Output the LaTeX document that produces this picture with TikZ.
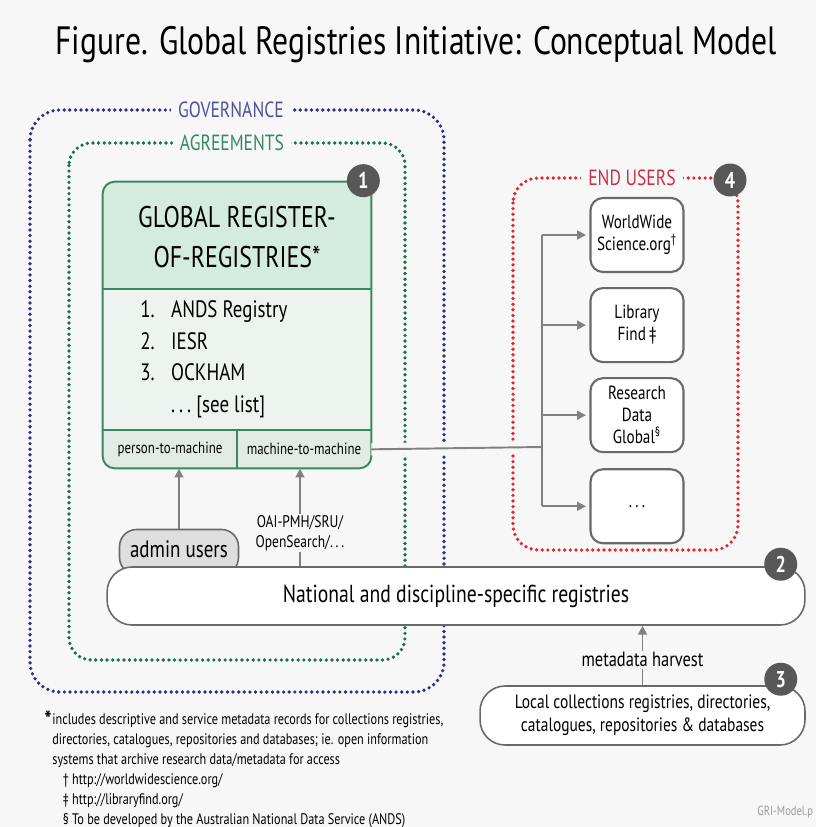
\documentclass[tikz,border=0pt]{standalone}
\usepackage{fontspec}
\setmainfont{PT Sans}[FakeStretch=0.8]
\usetikzlibrary{positioning,calc,arrows.meta}

\definecolor{bggray}{RGB}{247,247,247}
\definecolor{govblue}{RGB}{40,48,140}
\definecolor{govtext}{RGB}{78,82,158}
\definecolor{agrgreen}{RGB}{28,112,72}
\definecolor{agrtext}{RGB}{48,138,98}
\definecolor{endred}{RGB}{228,38,48}
\definecolor{endtext}{RGB}{200,48,74}
\definecolor{regborder}{RGB}{58,135,100}
\definecolor{reghead}{RGB}{212,235,223}
\definecolor{reglist}{RGB}{237,244,240}
\definecolor{regfoot}{RGB}{226,234,229}
\definecolor{boxline}{RGB}{105,105,105}
\definecolor{arrowgray}{RGB}{128,128,128}
\definecolor{badgegray}{RGB}{88,88,88}

\tikzset{
  dotline/.style={line width=2.1pt, line cap=round, dash pattern=on 0pt off 3.2pt},
  framelbl/.style={fill=bggray, inner xsep=4pt, inner ysep=1pt, font=\fontsize{12.5}{14}\selectfont},
  badge/.style={circle, fill=badgegray, text=white, inner sep=0pt, minimum size=0.66cm, font=\fontsize{13}{13}\selectfont\bfseries},
  regline/.style={draw=regborder, line width=1.1pt},
  foottext/.style={minimum width=2.68cm, minimum height=0.76cm, inner sep=0pt, font=\fontsize{9.2}{11}\selectfont},
  userbox/.style={draw=boxline, line width=1.2pt, rounded corners=0.25cm, fill=white, minimum width=1.86cm, minimum height=1.48cm, align=center, font=\fontsize{10.8}{12.6}\selectfont},
  pillbox/.style={draw=boxline, line width=0.9pt, rounded corners=0.5cm, fill=white, align=center},
  flowline/.style={draw=arrowgray, line width=1.1pt},
  flow/.style={flowline, -{Triangle[length=5pt,width=5pt]}},
  flowlbl/.style={fill=bggray, inner sep=1pt, align=center},
}

\begin{document}
\begin{tikzpicture}[x=0.02cm, y=-0.02cm]
\fill[bggray] (0,0) rectangle (816,827);
\useasboundingbox (0,0) rectangle (816,827);

\node[font=\fontsize{22.5}{26}\selectfont] (title) at (416,45) {Figure. Global Registries Initiative: Conceptual Model};

\draw[dotline, govblue, rounded corners=0.6cm] (30,110) rectangle (444,692);
\node[framelbl, text=govtext] (govlbl) at (231,110) {GOVERNANCE};
\draw[dotline, agrgreen, rounded corners=0.45cm] (69,143) rectangle (405,660);
\node[framelbl, text=agrtext] (agrlbl) at (232,143) {AGREEMENTS};

\draw[dotline, endred, rounded corners=0.5cm] (513,178) rectangle (738,550);
\node[framelbl, text=endtext] (endlbl) at (632,178) {END USERS};

\node[minimum width=5.36cm, minimum height=5.72cm] (gror) at (237,325) {};
\begin{scope}
  \clip[rounded corners=0.24cm] (gror.north west) rectangle (gror.south east);
  \fill[reghead] (gror.north west) rectangle ($(gror.north east)+(0,107)$);
  \fill[reglist] ($(gror.north west)+(0,107)$) rectangle ($(gror.south east)+(0,-38)$);
  \fill[regfoot] ($(gror.south west)+(0,-38)$) rectangle (gror.south east);
\end{scope}
\draw[regline] ($(gror.north west)+(0,107)$) -- ($(gror.north east)+(0,107)$);
\draw[regline] ($(gror.south west)+(0,-38)$) -- ($(gror.south east)+(0,-38)$);
\draw[regline] (gror.south) -- ($(gror.south)+(0,-38)$);
\draw[regline, rounded corners=0.24cm] (gror.north west) rectangle (gror.south east);

\node[align=center, font=\fontsize{17}{22.7}\selectfont] (headlbl) at ($(gror.north)+(0,55)$) {GLOBAL REGISTER-\\OF-REGISTRIES*};
\node[align=left, anchor=north west, inner sep=0pt, font=\fontsize{13.5}{18.1}\selectfont] (items) at (140,300) {%
  \makebox[1.3em][l]{1.}ANDS Registry\\
  \makebox[1.3em][l]{2.}IESR\\
  \makebox[1.3em][l]{3.}OCKHAM\\
  \makebox[1.3em][l]{}.\,.\,.\ [see list]};
\node[foottext] (p2m) at ($(gror.south)+(-67,-19)$) {person-to-machine};
\node[foottext] (m2m) at ($(gror.south)+(67,-19)$) {machine-to-machine};

\node[userbox] (ub1) at (637,235) {WorldWide\\Science.org\textsuperscript{†}};
\node[userbox, below=0.28cm of ub1] (ub2) {Library\\Find\,‡};
\node[userbox, below=0.28cm of ub2] (ub3) {Research\\Data\\Global\textsuperscript{§}};
\node[userbox, below=0.3cm of ub3] (ub4) {.\,.\,.};

\coordinate (hub) at (542,447);
\draw[flowline, preaction={draw=bggray, line width=7pt}] (m2m.east) -- (hub);
\draw[flowline] (hub |- ub1.west) -- (hub |- ub4.west);
\foreach \u in {ub1,ub2,ub3,ub4}
  \draw[flow, shorten >=2pt] (hub |- \u.west) -- (\u.west);

\node[draw=boxline, line width=0.9pt, fill=black!13, rounded corners=0.34cm, minimum width=2.38cm, minimum height=0.9cm, font=\fontsize{13.5}{15}\selectfont] (admin) at (179,552) {admin users\strut};

\node[pillbox, minimum width=13.96cm, minimum height=1.16cm, font=\fontsize{14}{16}\selectfont] (natreg) at (456,596) {National and discipline-specific registries};
\node[pillbox, minimum width=6.5cm, minimum height=1.18cm, font=\fontsize{11}{13}\selectfont] (local) at (642.5,715.5) {Local collections registries, directories,\\catalogues, repositories \& databases};

\draw[flow] (admin.north) -- (admin.north |- p2m.south);
\draw[flow] (natreg.north -| 300,0) -- (m2m.south -| 300,0)
  node[flowlbl, pos=0.34, font=\fontsize{9.6}{11}\selectfont] (oai) {OAI-PMH/SRU/\\OpenSearch/.\,.\,.};
\draw[flow] (local.north) -- (local.north |- natreg.south)
  node[flowlbl, pos=0.43, font=\fontsize{11.7}{13}\selectfont] (harvest) {metadata harvest};

\node[badge] (n1) at ($(gror.north east)+(-8,-1)$) {1};
\node[badge] (n2) at ($(natreg.north east)+(-25,-2)$) {2};
\node[badge] (n3) at ($(local.north east)+(-25,-6)$) {3};
\node[badge] (n4) at (730,180) {4};

\node[align=left, anchor=north west, inner sep=0pt, font=\fontsize{8.7}{11.4}\selectfont] (fnote) at (52,713) {%
  includes descriptive and service metadata records for collections registries,\\
  directories, catalogues, repositories and databases; ie. open information\\
  systems that archive research data/metadata for access\\
  \hspace*{6pt}† http://worldwidescience.org/\\
  \hspace*{6pt}‡ http://libraryfind.org/\\
  \hspace*{6pt}§ To be developed by the Australian National Data Service (ANDS)};
\node[anchor=north east, inner sep=0pt, font=\fontsize{13}{13}\selectfont\bfseries] (star) at ($(fnote.north west)+(0,-3)$) {*};
\node[anchor=west, inner sep=0pt, text=black!40, font=\fontsize{7.5}{9}\selectfont] (fname) at (757,812) {GRI-Model.p};
\end{tikzpicture}
\end{document}
